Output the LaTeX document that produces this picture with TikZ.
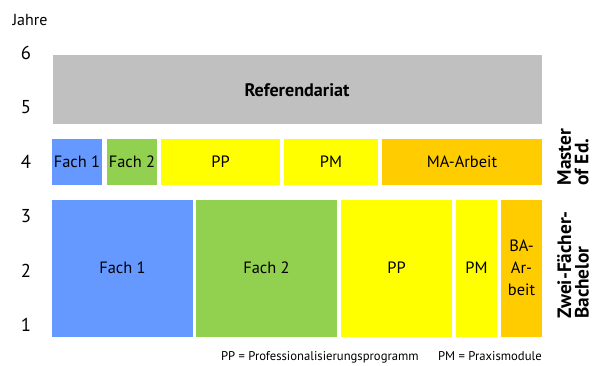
\documentclass[tikz,border=0pt]{standalone}
\usepackage{fontspec}
\setmainfont{PT Sans}
\definecolor{fachblau}{RGB}{102,153,255}
\definecolor{fachgruen}{RGB}{146,208,80}
\definecolor{ppgelb}{RGB}{255,255,0}
\definecolor{arbeitorange}{RGB}{255,204,0}
\definecolor{refgrau}{RGB}{192,192,192}
\tikzset{
  blocktext/.style={inner sep=0pt, align=center, font=\fontsize{12.3}{16.5}\selectfont},
  yearnum/.style={inner sep=0pt, font=\fontsize{14}{16}\selectfont},
  phase/.style={inner sep=0pt, rotate=90, align=left, font=\fontsize{14.5}{13}\selectfont\bfseries}
}
\begin{document}
\begin{tikzpicture}[x=0.75pt,y=-0.75pt]
    \useasboundingbox (0,0) rectangle (594,365);

    % Y-axis
    \node[inner sep=0pt, font=\fontsize{12}{14}\selectfont] (jahre) at (30,20) {Jahre};
    \foreach \n in {1,...,6} {
        \node[yearnum] (y\n) at (26,{325-(\n-1)*54.4}) {\n};
    }

    % Referendariat
    \fill[refgrau] (53,55) rectangle (542,124);
    \node[blocktext, font=\fontsize{13.6}{15}\selectfont\bfseries] (ref) at (297,90) {Referendariat};

    % Master of Education
    \foreach \a/\b/\col/\txt/\nm in {52/102/fachblau/Fach 1/mfa, 107/157/fachgruen/Fach 2/mfb,
        161/280/ppgelb/PP/mpp, 284/378/ppgelb/PM/mpm, 382/542/arbeitorange/MA-Arbeit/mma} {
        \fill[\col] (\a,139) rectangle (\b,185);
        \node[blocktext] (\nm) at ({(\a+\b)/2},162) {\txt};
    }

    % Zwei-Faecher-Bachelor
    \foreach \a/\b/\col/\txt/\nm in {52/193/fachblau/Fach 1/bfa, 196/337/fachgruen/Fach 2/bfb,
        341/452/ppgelb/PP/bpp, 456/497/ppgelb/PM/bpm, 501/542/arbeitorange/BA-\\Ar-\\beit/bba} {
        \fill[\col] (\a,200) rectangle (\b,337);
        \node[blocktext] (\nm) at ({(\a+\b)/2},268) {\txt};
    }

    % Phases
    \node[phase] (master) at (573,157) {Master\\of Ed.};
    \node[phase] (bachelor) at (573,265) {Zwei-Fächer-\\Bachelor};

    % Legend
    \node[inner sep=0pt, anchor=east, font=\fontsize{9.5}{11}\selectfont] (legende) at (542,357)
        {PP = Professionalisierungsprogramm\quad\ \ PM = Praxismodule};
\end{tikzpicture}
\end{document}
